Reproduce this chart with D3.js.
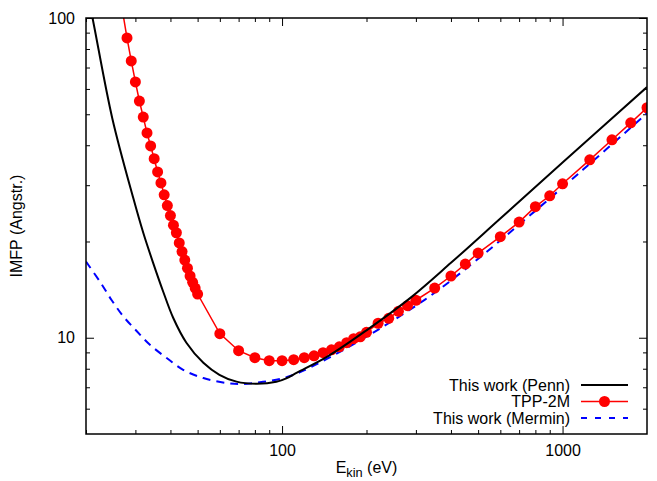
<!DOCTYPE html>
<html>
<head>
<meta charset="utf-8">
<script src="https://cdn.jsdelivr.net/npm/d3@7"></script>
<style>
  html, body { margin: 0; padding: 0; background: #fff; }
  svg { display: block; font-family: "Liberation Sans", Arial, Helvetica, sans-serif; }
</style>
</head>
<body>
<svg id="chart" width="657" height="481"></svg>
<script>
// Penn algorithm (this work): energy (eV) and IMFP (Angstrom)
const pennE = [20, 21.1, 24.8, 29.5, 32, 34.7, 37.7, 40.9, 45.6, 52.4, 59.8, 68.8, 81, 95.4, 103.6, 113, 145, 200, 286, 400, 600, 1000, 2000];
const pennL = [125, 100, 48.7, 27.3, 21.3, 17.15, 13.93, 11.55, 9.65, 8.35, 7.66, 7.29, 7.18, 7.28, 7.47, 7.78, 8.73, 10.55, 13.3, 17.15, 23.6, 35.3, 60.8];

// TPP-2M predictive formula
const tppE = [27, 28, 29, 30, 31, 32, 33, 34, 35, 36, 37, 38, 39, 40, 41, 42, 43, 44, 45, 46, 47, 48, 49, 50,
  60, 70, 80, 90, 100, 110, 120, 130, 140, 150, 160, 170, 180, 190, 200,
  220, 240, 260, 280, 300, 350, 400, 450, 500, 600, 700, 800, 900, 1000, 1250, 1500, 1750, 2000];
const tppL = [105, 86.6, 73.4, 63.1, 55.0, 49.0, 43.7, 39.8, 36.3, 33.0, 30.5, 28.0, 25.9, 24.1, 22.5, 21.3, 19.8, 18.6, 17.5, 16.5, 15.6, 14.9, 14.3, 13.7,
  10.3, 9.11, 8.66, 8.48, 8.48, 8.54, 8.66, 8.78, 8.98, 9.17, 9.37, 9.65, 9.93, 10.07, 10.4,
  11.1, 11.5, 12.1, 12.6, 13.1, 14.3, 15.6, 17.0, 18.4, 20.7, 23.0, 25.7, 27.8, 30.3, 36.0, 41.6, 47.0, 52.4];

// Mermin dielectric function (this work)
const merminE = [20, 22.4, 24.7, 27.2, 30.3, 33.8, 38.8, 44.4, 52.4, 63.4, 72.6, 85.6, 100.8, 115, 145, 224, 337, 494, 1181, 2000];
const merminL = [17.3, 15.0, 13.1, 11.65, 10.5, 9.51, 8.64, 7.94, 7.48, 7.22, 7.17, 7.28, 7.47, 7.78, 8.6, 10.7, 13.5, 17.5, 33.5, 50.4];

const xMajor = [100, 1000];
const xMinor = [20, 30, 40, 50, 60, 70, 80, 90, 200, 300, 400, 500, 600, 700, 800, 900];
const yMajor = [10, 100];
const yMinor = [6, 7, 8, 9, 20, 30, 40, 50, 60, 70, 80, 90];

const svg = d3.select('#chart');
const margin = { top: 18, right: 10, bottom: 47, left: 86 };
const width = 657 - margin.left - margin.right;
const height = 481 - margin.top - margin.bottom;

const x = d3.scaleLog().domain([20, 2000]).range([0, width]);
const y = d3.scaleLog().domain([5, 100]).range([height, 0]);

const g = svg.append('g').attr('transform', `translate(${margin.left},${margin.top})`);

g.append('clipPath').attr('id', 'plotclip')
  .append('rect').attr('width', width).attr('height', height);

// ticks, mirrored on all four sides and pointing inward
function ticks(axis, values, size, label, transform) {
  const a = axis.tickValues(values).tickSize(-size).tickPadding(label ? 11 : 0)
    .tickFormat(label ? d3.format('d') : '');
  const sel = g.append('g').attr('transform', transform || null).call(a);
  sel.select('.domain').remove();
  sel.selectAll('line').attr('stroke', '#000').attr('stroke-width', 1);
  sel.selectAll('text').attr('font-size', '16px').attr('fill', '#000')
    .attr('font-family', '"Liberation Sans", Arial, sans-serif');
  return sel;
}
ticks(d3.axisBottom(x), xMajor, 8, true, `translate(0,${height})`);
ticks(d3.axisBottom(x), xMinor, 4, false, `translate(0,${height})`);
ticks(d3.axisTop(x), xMajor, 8, false);
ticks(d3.axisTop(x), xMinor, 4, false);
ticks(d3.axisLeft(y), yMajor, 8, true);
ticks(d3.axisLeft(y), yMinor, 4, false);
ticks(d3.axisRight(y), yMajor, 8, false, `translate(${width},0)`);
ticks(d3.axisRight(y), yMinor, 4, false, `translate(${width},0)`);

const plot = g.append('g').attr('clip-path', 'url(#plotclip)');

const smooth = d3.line().x(d => x(d[0])).y(d => y(d[1])).curve(d3.curveCatmullRom.alpha(0.5));
const straight = d3.line().x(d => x(d[0])).y(d => y(d[1]));

const penn = d3.zip(pennE, pennL);
const tpp = d3.zip(tppE, tppL);
const mermin = d3.zip(merminE, merminL);

plot.append('path').datum(mermin)
  .attr('d', smooth).attr('fill', 'none')
  .attr('stroke', '#0000ff').attr('stroke-width', 2).attr('stroke-dasharray', '8,6');

plot.append('path').datum(tpp)
  .attr('d', straight).attr('fill', 'none')
  .attr('stroke', '#ff0000').attr('stroke-width', 1.5);

plot.selectAll('circle.tpp').data(tpp).enter()
  .append('circle').attr('class', 'tpp')
  .attr('cx', d => x(d[0])).attr('cy', d => y(d[1])).attr('r', 5.5)
  .attr('fill', '#ff0000');

plot.append('path').datum(penn)
  .attr('d', smooth).attr('fill', 'none')
  .attr('stroke', '#000').attr('stroke-width', 2);

// border
g.append('rect').attr('width', width).attr('height', height)
  .attr('fill', 'none').attr('stroke', '#000').attr('stroke-width', 1.5);

// axis labels
const xl = svg.append('text')
  .attr('x', margin.left + width / 2).attr('y', 473)
  .attr('text-anchor', 'middle').attr('font-size', '16px');
xl.append('tspan').text('E');
xl.append('tspan').attr('font-size', '12.8px').attr('dy', 4).text('kin');
xl.append('tspan').attr('dy', -4).text(' (eV)');

svg.append('text')
  .attr('transform', `translate(22,${margin.top + height / 2}) rotate(-90)`)
  .attr('text-anchor', 'middle').attr('font-size', '16px')
  .text('IMFP (Angstr.)');

// legend
const legend = [
  { name: 'This work (Penn)', color: '#000', dash: null, marker: false, w: 2 },
  { name: 'TPP-2M', color: '#ff0000', dash: null, marker: true, w: 1.5 },
  { name: 'This work (Mermin)', color: '#0000ff', dash: '6,8', marker: false, w: 2 }
];
const lg = svg.append('g').attr('transform', 'translate(570,385)');
legend.forEach((d, i) => {
  const row = lg.append('g').attr('transform', `translate(0,${i * 16.5})`);
  row.append('text').attr('x', 0).attr('y', 5.5).attr('text-anchor', 'end')
    .attr('font-size', '16px').text(d.name);
  row.append('line').attr('x1', 11).attr('x2', 58).attr('y1', 0).attr('y2', 0)
    .attr('stroke', d.color).attr('stroke-width', d.w)
    .attr('stroke-dasharray', d.dash);
  if (d.marker) {
    row.append('circle').attr('cx', 34.5).attr('cy', 0).attr('r', 5.5).attr('fill', d.color);
  }
});
</script>
</body>
</html>
